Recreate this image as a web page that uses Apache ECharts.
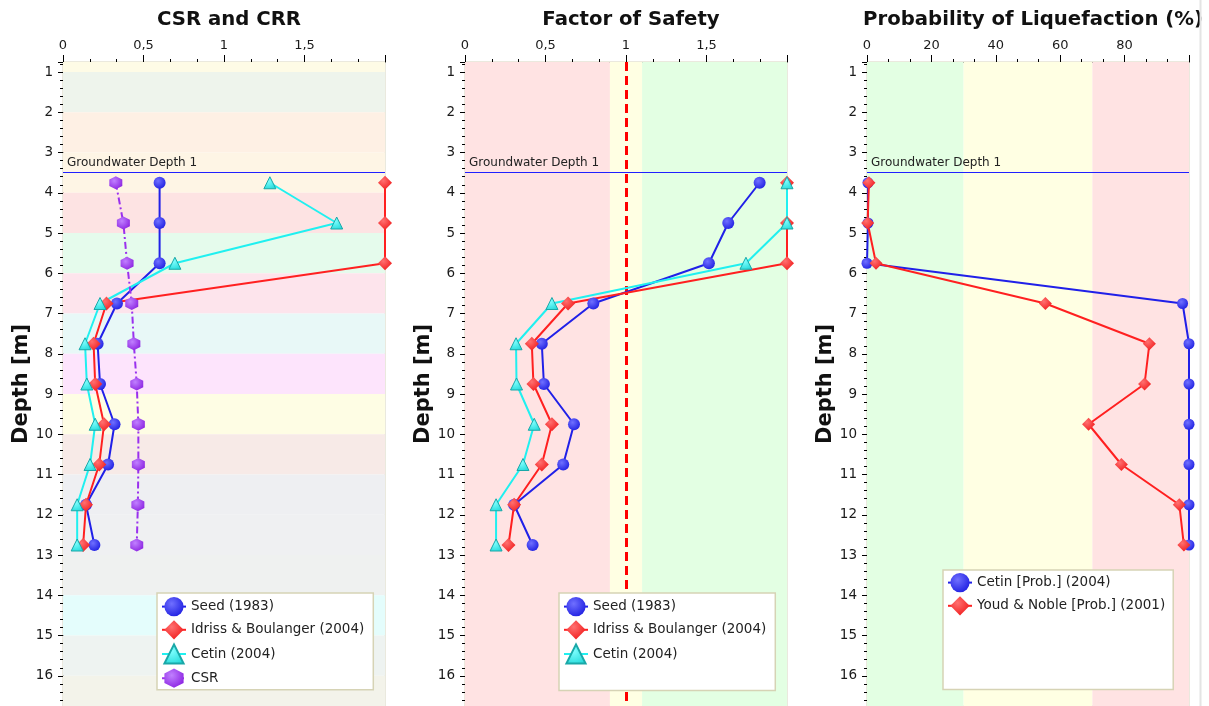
<!DOCTYPE html>
<html>
<head>
<meta charset="utf-8">
<title>Liquefaction analysis</title>
<script src="https://cdn.jsdelivr.net/npm/echarts@6/dist/echarts.min.js"></script>
<style>
  html, body { margin: 0; padding: 0; background: #ffffff; }
  #chart { width: 1209px; height: 706px; }
</style>
</head>
<body>
<div id="chart"></div>
<script>
// Sample depths (m)
const depths = [3.75, 4.75, 5.75, 6.75, 7.75, 8.75, 9.75, 10.75, 11.75, 12.75];

// Cyclic resistance / stress ratios
const seedCRR   = [0.60, 0.60, 0.60, 0.335, 0.215, 0.23, 0.32, 0.28, 0.143, 0.195];
const idrissCRR = [2.00, 2.00, 2.00, 0.27, 0.19, 0.20, 0.255, 0.225, 0.143, 0.125];
const cetinCRR  = [1.285, 1.70, 0.695, 0.23, 0.137, 0.148, 0.20, 0.168, 0.088, 0.088];
const csr       = [0.328, 0.375, 0.398, 0.427, 0.44, 0.458, 0.468, 0.468, 0.465, 0.458];

// Factor of safety
const seedFS   = [1.83, 1.635, 1.515, 0.797, 0.477, 0.49, 0.677, 0.61, 0.305, 0.42];
const idrissFS = [2.00, 2.00, 2.00, 0.64, 0.415, 0.425, 0.54, 0.477, 0.305, 0.27];
const cetinFS  = [2.00, 2.00, 1.745, 0.54, 0.317, 0.32, 0.43, 0.36, 0.193, 0.193];

// Probability of liquefaction (%)
const cetinProb = [0.3, 0.3, 0.0, 98, 100, 100, 100, 100, 100, 100];
const youdProb  = [0.6, 0.2, 2.8, 55.4, 87.7, 86.2, 68.8, 79, 97, 98.4];

// Soil layer boundaries (m)
const layerTops    = [0.75, 1, 2, 3, 4, 5, 6, 7, 8, 9, 10, 11, 12, 13, 14, 15, 16];
const layerBottoms = [1, 2, 3, 4, 5, 6, 7, 8, 9, 10, 11, 12, 13, 14, 15, 16, 16.75];

// Groundwater table
const groundwaterDepth = 3.5;
const groundwaterName = 'Groundwater Depth 1';

// Safety-factor zones
const fsZones = [[0, 0.9], [0.9, 1.1], [1.1, 2]];
// Probability zones (%)
const probZones = [[0, 30], [30, 70], [70, 100]];

const layerPalette = ['#fefbe6', '#eef4ec', '#fef0e4', '#fef5e5', '#fde3e3', '#e5fbec', '#fde4ec',
  '#e8f8f7', '#fde4fc', '#fefde4', '#f7eae7', '#eeeff2', '#eff0f2', '#eff1f0', '#e4fdfc', '#eef3f1', '#f3f3ea'];
const fsPalette = ['#ffe3e3', '#ffffe3', '#e3ffe3'];
const probPalette = ['#e3ffe3', '#ffffe3', '#ffe3e3'];

const FONT = 'DejaVu Sans';
const pair = vals => vals.map((v, i) => [v, depths[i]]);

function shade(light, dark) {
  return { type: 'radial', x: 0.38, y: 0.35, r: 0.75,
    colorStops: [{ offset: 0, color: light }, { offset: 1, color: dark }] };
}
const hexagon = 'path://M0,-10 L8.66,-5 L8.66,5 L0,10 L-8.66,5 L-8.66,-5 Z';

const styles = {
  seed:   { color: '#2020e8', fill: shade('#7070ff', '#1c1ce0'), symbol: 'circle', size: 12 },
  idriss: { color: '#ff2020', fill: shade('#ff7070', '#f01818'), symbol: 'diamond', size: 14 },
  cetin:  { color: '#20f0f0', fill: shade('#80ffff', '#20d8d8'), symbol: 'triangle', size: 12, border: '#1aa8a8' },
  csr:    { color: '#9a30ee', fill: shade('#c080ff', '#8a20e0'), symbol: hexagon, size: 13 }
};

function lineSeries(name, st, vals, gi, extra) {
  return Object.assign({
    name: name, type: 'line', xAxisIndex: gi, yAxisIndex: gi,
    data: pair(vals), symbol: st.symbol, symbolSize: st.size, clip: true,
    lineStyle: { color: st.color, width: 2 },
    itemStyle: { color: st.fill, borderColor: st.border || st.color, borderWidth: st.border ? 1 : 0 },
    emphasis: { disabled: true }, animation: false, z: 5
  }, extra || {});
}

const gridLefts = [63, 465, 867];
const titles = ['CSR and CRR', 'Factor of Safety', 'Probability of Liquefaction (%)'];
const xMax = [2, 2, 100];
const xInterval = [0.5, 0.5, 20];

const commaFmt = v => String(v).replace('.', ',');

const grids = gridLefts.map(l => ({
  left: l, top: 62, width: 322, height: 644, show: true,
  borderColor: '#d6d3bd', borderWidth: 1, backgroundColor: 'transparent'
}));

const xAxes = gridLefts.map((l, i) => ({
  gridIndex: i, type: 'value', position: 'top', min: 0, max: xMax[i], interval: xInterval[i],
  axisLine: { show: true, onZero: false, lineStyle: { color: '#000', width: 1 } },
  axisTick: { show: true, inside: false, length: 7, lineStyle: { color: '#000' } },
  minorTick: { show: true, splitNumber: 3, length: 3, lineStyle: { color: '#000' } },
  axisLabel: { showMaxLabel: false, margin: 10, color: '#1a1a1a', fontFamily: FONT, fontSize: 13, formatter: commaFmt },
  splitLine: { show: false }
}));

const yAxes = gridLefts.map((l, i) => ({
  gridIndex: i, type: 'value', inverse: true, min: 0.75, max: 16.75,
  splitNumber: 16, minInterval: 1, maxInterval: 1,
  name: 'Depth [m]', nameLocation: 'middle', nameGap: 31, nameRotate: 90,
  nameTextStyle: { fontFamily: FONT, fontSize: 21, fontWeight: 'bold', color: '#111' },
  axisLine: { show: true, onZero: false, lineStyle: { color: '#000', width: 1 } },
  axisTick: { show: true, length: 5, lineStyle: { color: '#000' } },
  minorTick: { show: true, splitNumber: 5, length: 3, lineStyle: { color: '#000' } },
  axisLabel: { interval: 0, margin: 10, color: '#1a1a1a', fontFamily: FONT, fontSize: 13.5,
    formatter: v => (Math.abs(v - Math.round(v)) < 1e-6 ? String(Math.round(v)) : '') },
  splitLine: { show: false }
}));

const groundwaterLine = {
  silent: true, symbol: 'none', animation: false,
  lineStyle: { color: '#2020ff', width: 1.2, type: 'solid' },
  label: { show: true, position: 'insideStartTop', distance: [4, 4], formatter: groundwaterName,
    color: '#222', fontFamily: FONT, fontSize: 12 },
  data: [{ yAxis: groundwaterDepth }]
};

// Background bands: soil layers, FS zones, probability zones
const bgLayers = {
  type: 'line', xAxisIndex: 0, yAxisIndex: 0, data: [], z: 1, silent: true,
  markArea: { silent: true, animation: false,
    data: layerTops.map((t, k) => [{ yAxis: t, itemStyle: { color: layerPalette[k] } }, { yAxis: layerBottoms[k] }]) },
  markLine: groundwaterLine
};
const bgFS = {
  type: 'line', xAxisIndex: 1, yAxisIndex: 1, data: [], z: 1, silent: true,
  markArea: { silent: true, animation: false,
    data: fsZones.map((zn, k) => [{ xAxis: zn[0], itemStyle: { color: fsPalette[k] } }, { xAxis: zn[1] }]) },
  markLine: groundwaterLine
};
const fsLimit = {
  type: 'line', xAxisIndex: 1, yAxisIndex: 1, data: [], z: 3, silent: true,
  markLine: { silent: true, symbol: 'none', animation: false, label: { show: false },
    lineStyle: { color: '#ff0000', width: 3, type: [9, 5] }, data: [{ xAxis: 1 }] }
};
const bgProb = {
  type: 'line', xAxisIndex: 2, yAxisIndex: 2, data: [], z: 1, silent: true,
  markArea: { silent: true, animation: false,
    data: probZones.map((zn, k) => [{ xAxis: zn[0], itemStyle: { color: probPalette[k] } }, { xAxis: zn[1] }]) },
  markLine: groundwaterLine
};

const series = [
  bgLayers, bgFS, fsLimit, bgProb,
  lineSeries('Seed (1983)', styles.seed, seedCRR, 0),
  lineSeries('Idriss & Boulanger (2004)', styles.idriss, idrissCRR, 0),
  lineSeries('Cetin (2004)', styles.cetin, cetinCRR, 0),
  lineSeries('CSR', styles.csr, csr, 0, { lineStyle: { color: styles.csr.color, width: 2, type: [7, 3, 2, 3] } }),
  lineSeries('Seed (1983) ', styles.seed, seedFS, 1),
  lineSeries('Idriss & Boulanger (2004) ', styles.idriss, idrissFS, 1),
  lineSeries('Cetin (2004) ', styles.cetin, cetinFS, 1),
  lineSeries('Cetin [Prob.] (2004)', styles.seed, cetinProb, 2, { symbolSize: 11 }),
  lineSeries('Youd & Noble [Prob.] (2001)', styles.idriss, youdProb, 2, { symbolSize: 13 })
];

function legendBox(names, left, top, padding) {
  return {
    orient: 'vertical', left: left, top: top, padding: padding, itemGap: 4, z: 20,
    itemWidth: 24, itemHeight: 24, data: names, selectedMode: false,
    backgroundColor: '#ffffff', borderColor: '#d6d3b5', borderWidth: 1.5, borderRadius: 0,
    textStyle: { fontFamily: FONT, fontSize: 13.5, color: '#222' },
    formatter: n => n.trim()
  };
}

const option = {
  backgroundColor: '#ffffff',
  animation: false,
  title: gridLefts.map((l, i) => ({
    text: titles[i], left: l + 161, top: 5, textAlign: 'center',
    textStyle: { fontFamily: FONT, fontSize: 19.7, fontWeight: 'bold', color: '#111' }
  })),
  grid: grids,
  xAxis: xAxes,
  yAxis: yAxes,
  legend: [
    legendBox(['Seed (1983)', 'Idriss & Boulanger (2004)', 'Cetin (2004)', 'CSR'], 157, 593, [4, 9, 2, 4]),
    legendBox(['Seed (1983) ', 'Idriss & Boulanger (2004) ', 'Cetin (2004) '], 559, 593, [4, 9, 26, 4]),
    legendBox(['Cetin [Prob.] (2004)', 'Youd & Noble [Prob.] (2001)'], 943, 570, [3, 8, 74, 4])
  ],
  graphic: [{
    type: 'line', silent: true, z: 10,
    shape: { x1: 1200.5, y1: 0, x2: 1200.5, y2: 706 },
    style: { stroke: '#e4e4e4', lineWidth: 2 }
  }],
  series: series
};

const chart = echarts.init(document.getElementById('chart'), null, { renderer: 'canvas' });
chart.setOption(option);
</script>
</body>
</html>
